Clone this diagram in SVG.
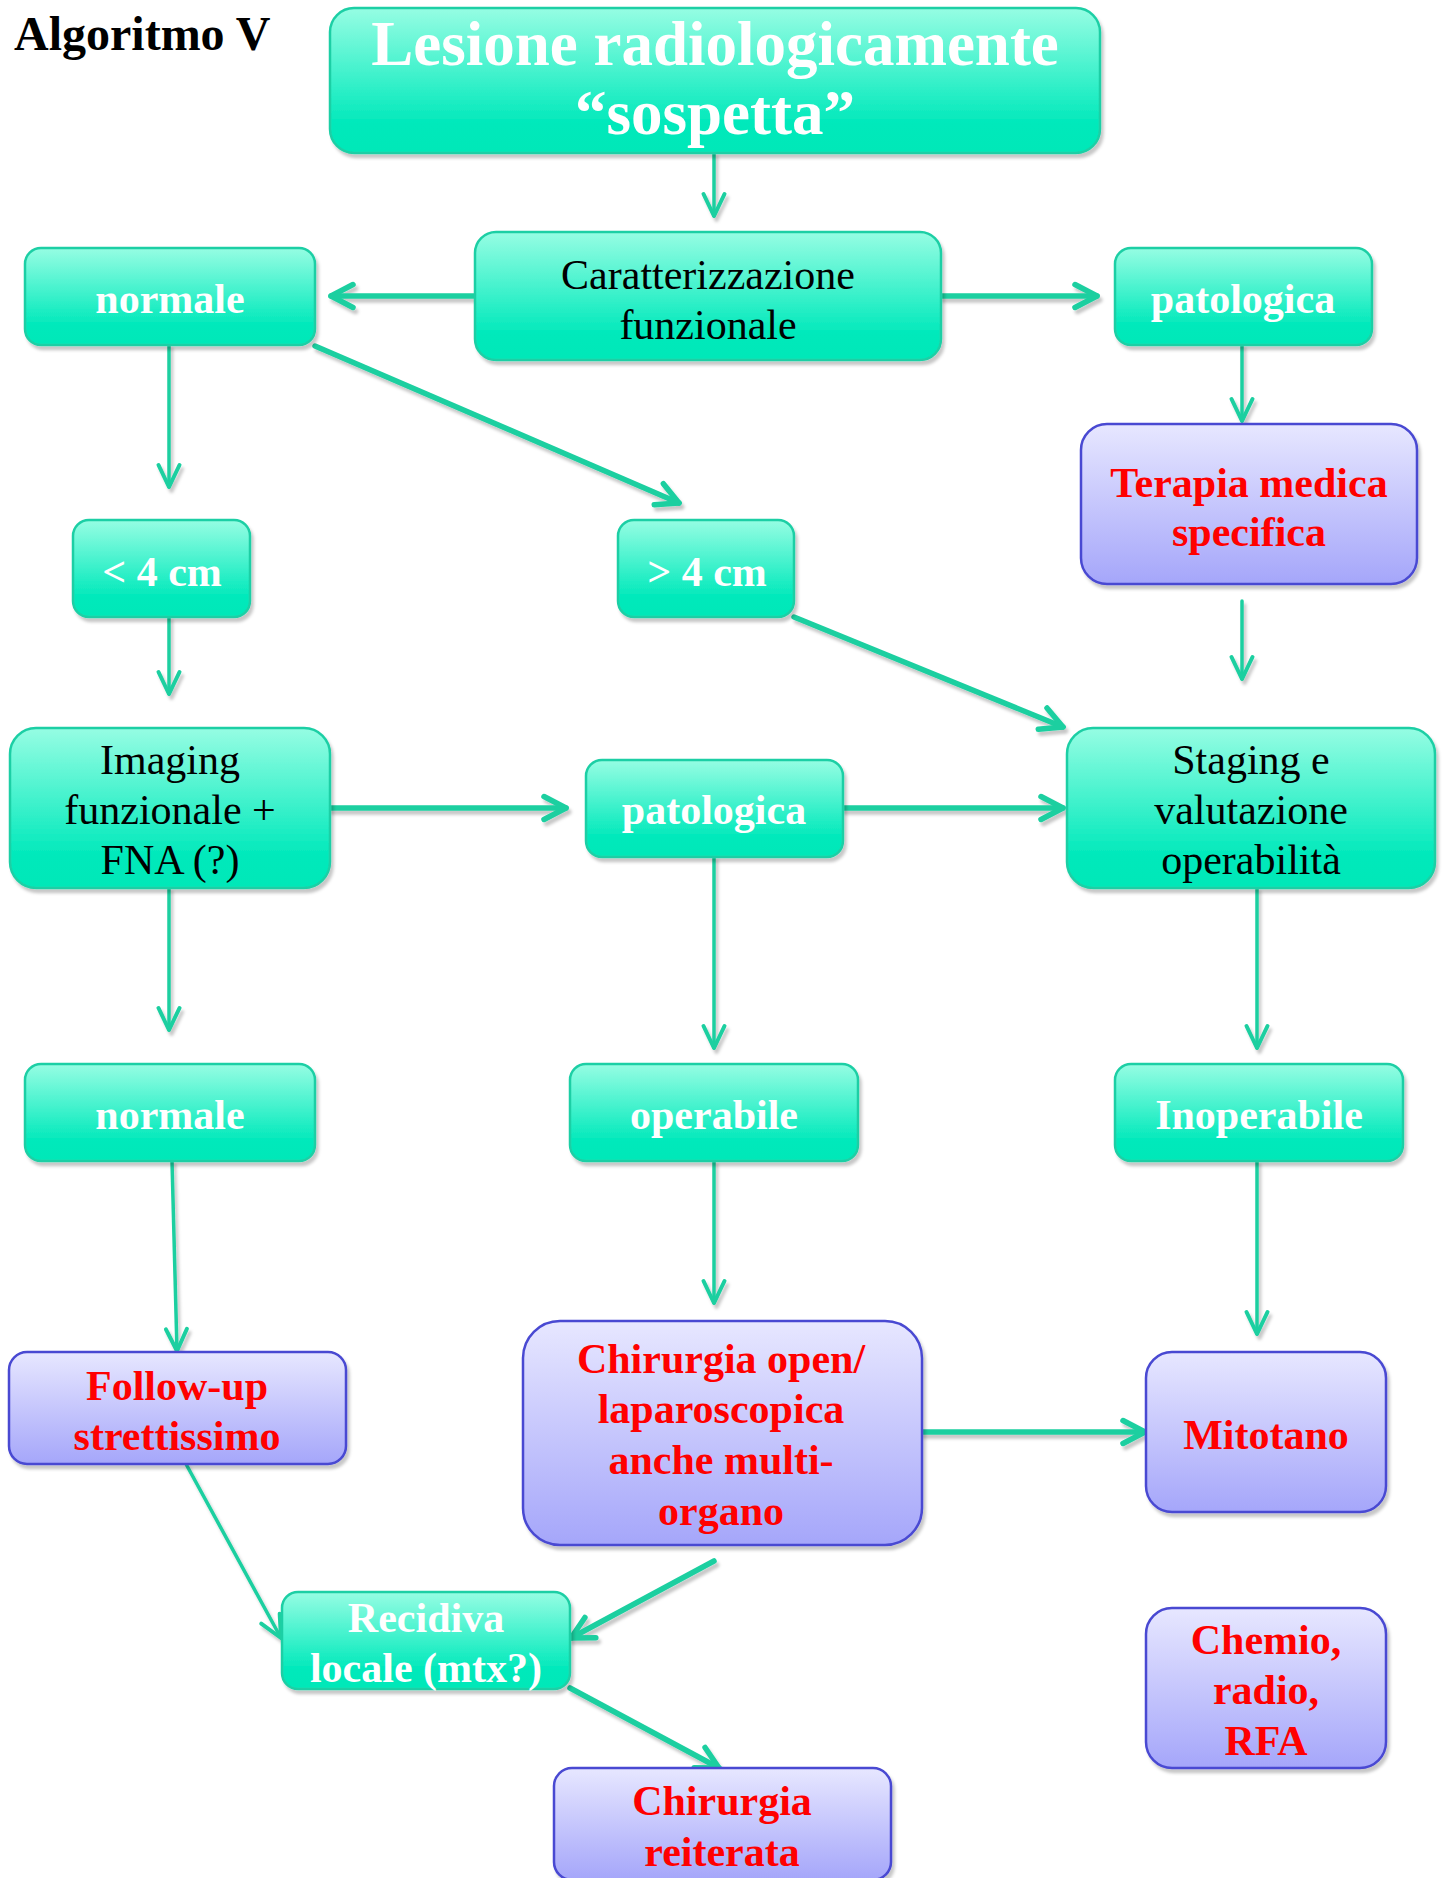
<svg xmlns="http://www.w3.org/2000/svg" width="1444" height="1878" viewBox="0 0 1444 1878">
<style>
.g rect{fill:url(#gg);stroke:#1fcfa5;stroke-width:2.5}
.b rect{fill:url(#bg);stroke:#4848d2;stroke-width:2.5}
text{font-family:"Liberation Serif","Times New Roman",serif;font-size:42px;text-anchor:middle}
.w{fill:#fff;font-weight:bold}
.k{fill:#000}
.r{fill:#ff0000;font-weight:bold}
.c path{fill:none;stroke:#1bcfa0;stroke-linecap:round}
.thin{stroke-width:3.5;marker-end:url(#at)}
.thick{stroke-width:5.5;marker-end:url(#ak)}
</style>
<defs>
<linearGradient id="gg" x1="0" y1="0" x2="0" y2="1">
<stop offset="0" stop-color="#96fde3"/>
<stop offset="0.8" stop-color="#00e9bb"/>
<stop offset="1" stop-color="#00e8b8"/>
</linearGradient>
<linearGradient id="bg" x1="0" y1="0" x2="0" y2="1">
<stop offset="0" stop-color="#e7e7ff"/>
<stop offset="1" stop-color="#a5a6fa"/>
</linearGradient>
<filter id="sh" x="-10%" y="-10%" width="130%" height="130%">
<feDropShadow dx="2.5" dy="4" stdDeviation="1.5" flood-color="#000" flood-opacity="0.22"/>
</filter>
<marker id="at" markerUnits="userSpaceOnUse" markerWidth="40" markerHeight="40" refX="34" refY="20" orient="auto" overflow="visible">
<path d="M12,9.5 L34,20 L12,30.5" fill="none" stroke="#1bcfa0" stroke-width="4" stroke-linecap="round" stroke-linejoin="round"/>
</marker>
<marker id="ak" markerUnits="userSpaceOnUse" markerWidth="40" markerHeight="40" refX="34" refY="20" orient="auto" overflow="visible">
<path d="M12,8.5 L34,20 L12,31.5" fill="none" stroke="#1bcfa0" stroke-width="5.5" stroke-linecap="round" stroke-linejoin="round"/>
</marker>
</defs>
<rect width="1444" height="1878" fill="#fff"/>
<text x="14" y="50" class="k" style="font-size:48px;font-weight:bold;text-anchor:start">Algoritmo V</text>

<g class="c" filter="url(#sh)" id="connectors">
<path class="thin" d="M714,153 L714,216"/>
<path class="thick" d="M475,296 L331,296"/>
<path class="thick" d="M941,296 L1097,296"/>
<path class="thin" d="M169,345 L169,487"/>
<path class="thick" d="M315,346 L679,503"/>
<path class="thin" d="M1242,345 L1242,421"/>
<path class="thin" d="M1242,601 L1242,679"/>
<path class="thin" d="M169,617 L169,694"/>
<path class="thick" d="M794,617 L1063,727"/>
<path class="thick" d="M330,808 L566,808"/>
<path class="thick" d="M843,808 L1063,808"/>
<path class="thin" d="M169,888 L169,1030"/>
<path class="thin" d="M714,857 L714,1048"/>
<path class="thin" d="M1257,888 L1257,1048"/>
<path class="thin" d="M172,1161 L177,1351"/>
<path class="thin" d="M714,1161 L714,1303"/>
<path class="thin" d="M1257,1161 L1257,1334"/>
<path class="thick" d="M922,1432 L1145,1432"/>
<path class="thin" d="M186,1464 L281,1638"/>
<path class="thick" d="M714,1561 L571,1638"/>
<path class="thick" d="M570,1688 L719,1768"/>
</g>

<g id="n-top" class="g"><rect x="330" y="8" width="770" height="145" rx="24" filter="url(#sh)"/>
<text class="w" x="715" y="65" style="font-size:63px">Lesione radiologicamente</text>
<text class="w" x="715" y="134" style="font-size:63px">“sospetta”</text></g>

<g id="n-caratt" class="g"><rect x="475" y="232" width="466" height="128" rx="21" filter="url(#sh)"/>
<text class="k" x="708" y="289">Caratterizzazione</text>
<text class="k" x="708" y="339">funzionale</text></g>

<g id="n-normale1" class="g"><rect x="25" y="248" width="290" height="97" rx="16" filter="url(#sh)"/>
<text class="w" x="170" y="313">normale</text></g>

<g id="n-patologica1" class="g"><rect x="1115" y="248" width="257" height="97" rx="16" filter="url(#sh)"/>
<text class="w" x="1243" y="313">patologica</text></g>

<g id="n-terapia" class="b"><rect x="1081" y="424" width="336" height="160" rx="26" filter="url(#sh)"/>
<text class="r" x="1249" y="497">Terapia medica</text>
<text class="r" x="1249" y="546">specifica</text></g>

<g id="n-lt4" class="g"><rect x="73" y="520" width="177" height="97" rx="16" filter="url(#sh)"/>
<text class="w" x="162" y="586">&lt; 4 cm</text></g>

<g id="n-gt4" class="g"><rect x="618" y="520" width="176" height="97" rx="16" filter="url(#sh)"/>
<text class="w" x="707" y="586">&gt; 4 cm</text></g>

<g id="n-imaging" class="g"><rect x="10" y="728" width="320" height="160" rx="26" filter="url(#sh)"/>
<text class="k" x="170" y="774">Imaging</text>
<text class="k" x="170" y="824">funzionale +</text>
<text class="k" x="170" y="874">FNA (?)</text></g>

<g id="n-patologica2" class="g"><rect x="586" y="760" width="257" height="97" rx="16" filter="url(#sh)"/>
<text class="w" x="714" y="824">patologica</text></g>

<g id="n-staging" class="g"><rect x="1067" y="728" width="368" height="160" rx="26" filter="url(#sh)"/>
<text class="k" x="1251" y="774">Staging e</text>
<text class="k" x="1251" y="824">valutazione</text>
<text class="k" x="1251" y="874">operabilità</text></g>

<g id="n-normale2" class="g"><rect x="25" y="1064" width="290" height="97" rx="16" filter="url(#sh)"/>
<text class="w" x="170" y="1129">normale</text></g>

<g id="n-operabile" class="g"><rect x="570" y="1064" width="288" height="97" rx="16" filter="url(#sh)"/>
<text class="w" x="714" y="1129">operabile</text></g>

<g id="n-inoperabile" class="g"><rect x="1115" y="1064" width="288" height="97" rx="16" filter="url(#sh)"/>
<text class="w" x="1259" y="1129">Inoperabile</text></g>

<g id="n-followup" class="b"><rect x="9" y="1352" width="337" height="112" rx="18" filter="url(#sh)"/>
<text class="r" x="177" y="1400">Follow-up</text>
<text class="r" x="177" y="1450">strettissimo</text></g>

<g id="n-chirurgia" class="b"><rect x="523" y="1321" width="399" height="224" rx="37" filter="url(#sh)"/>
<text class="r" x="721" y="1373">Chirurgia open/</text>
<text class="r" x="721" y="1423">laparoscopica</text>
<text class="r" x="721" y="1474">anche multi-</text>
<text class="r" x="721" y="1525">organo</text></g>

<g id="n-mitotano" class="b"><rect x="1146" y="1352" width="240" height="160" rx="26" filter="url(#sh)"/>
<text class="r" x="1266" y="1449">Mitotano</text></g>

<g id="n-recidiva" class="g"><rect x="282" y="1592" width="288" height="97" rx="16" filter="url(#sh)"/>
<text class="w" x="426" y="1632">Recidiva</text>
<text class="w" x="426" y="1682">locale (mtx?)</text></g>

<g id="n-chemio" class="b"><rect x="1146" y="1608" width="240" height="160" rx="26" filter="url(#sh)"/>
<text class="r" x="1266" y="1654">Chemio,</text>
<text class="r" x="1266" y="1704">radio,</text>
<text class="r" x="1266" y="1755">RFA</text></g>

<g id="n-reiterata" class="b"><rect x="554" y="1768" width="337" height="112" rx="18" filter="url(#sh)"/>
<text class="r" x="722" y="1815">Chirurgia</text>
<text class="r" x="722" y="1866">reiterata</text></g>
</svg>
